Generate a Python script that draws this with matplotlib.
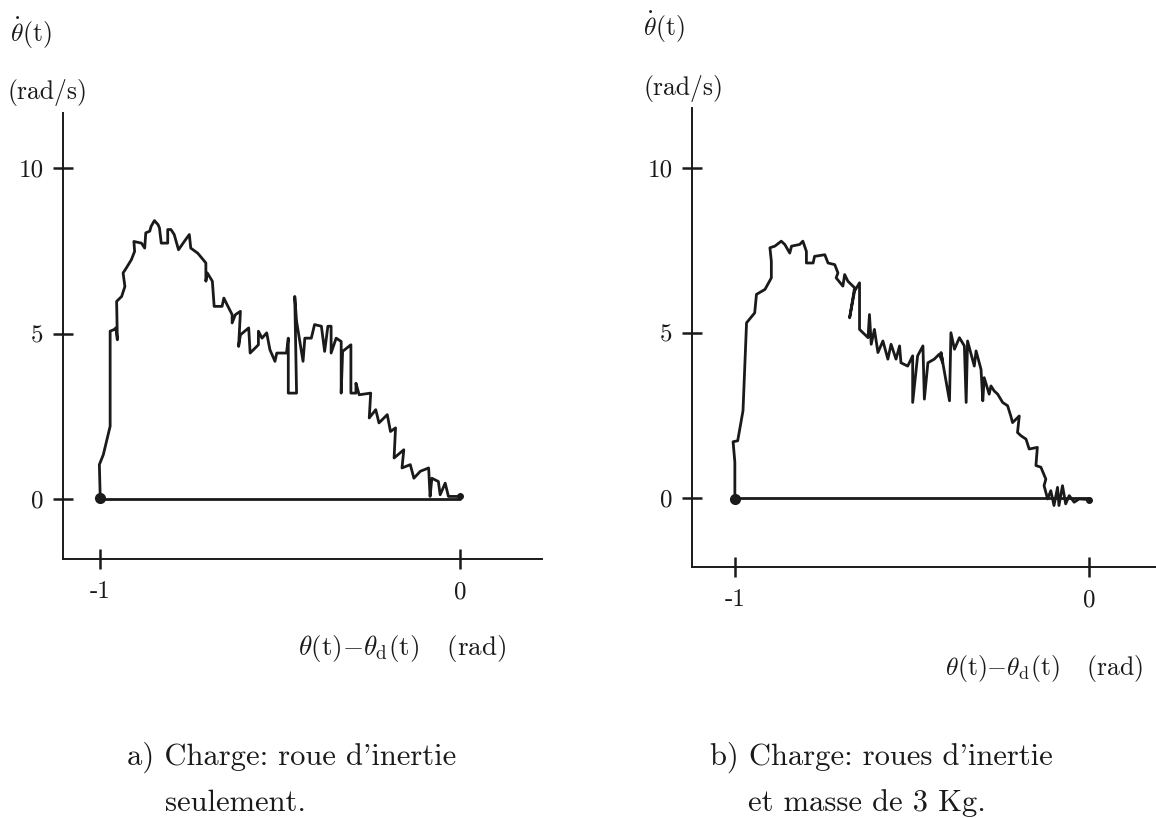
import matplotlib
matplotlib.use("Agg")
import matplotlib.pyplot as plt

plt.rcParams["font.family"] = ["cmr10", "DejaVu Serif"]
plt.rcParams["mathtext.fontset"] = "cm"
plt.rcParams["axes.unicode_minus"] = False
plt.rcParams["axes.formatter.use_mathtext"] = True

# a) roue d'inertie seulement
xa = [-1.000, -1.000, -1.002, -0.991, -0.972, -0.972, -0.972, -0.961, -0.956, -0.952,
      -0.954, -0.940, -0.931, -0.936, -0.927, -0.913, -0.904, -0.906, -0.885, -0.876,
      -0.873, -0.862, -0.858, -0.849, -0.839, -0.835, -0.830, -0.812, -0.812, -0.803,
      -0.794, -0.782, -0.766, -0.752, -0.748, -0.729, -0.725, -0.706, -0.706, -0.702,
      -0.688, -0.683, -0.661, -0.656, -0.647, -0.633, -0.633, -0.624, -0.610, -0.615,
      -0.610, -0.587, -0.583, -0.560, -0.560, -0.550, -0.537, -0.528, -0.514, -0.509,
      -0.482, -0.477, -0.477, -0.454, -0.459, -0.454, -0.436, -0.431, -0.413, -0.404,
      -0.385, -0.376, -0.367, -0.358, -0.358, -0.344, -0.330, -0.330, -0.326, -0.303,
      -0.303, -0.289, -0.289, -0.280, -0.248, -0.252, -0.234, -0.225, -0.202, -0.193,
      -0.179, -0.183, -0.156, -0.161, -0.138, -0.128, -0.110, -0.087, -0.083, -0.078,
      -0.060, -0.055, -0.041, -0.032, -0.018, 0.000]
ya = [0.03, 0.23, 1.04, 1.34, 2.20, 2.65, 5.07, 5.12, 5.17, 4.81,
      5.97, 6.12, 6.42, 6.83, 6.98, 7.23, 7.48, 7.78, 7.73, 7.58,
      8.04, 8.09, 8.24, 8.41, 8.29, 8.19, 7.73, 7.73, 8.14, 8.14,
      7.99, 7.53, 7.78, 7.99, 7.58, 7.43, 7.38, 7.13, 6.58, 6.83,
      6.58, 5.82, 5.82, 6.07, 5.87, 5.57, 5.32, 5.57, 5.67, 4.61,
      4.96, 5.17, 4.41, 4.66, 5.07, 4.86, 5.02, 4.51, 4.16, 4.41,
      4.41, 4.86, 3.20, 3.20, 6.12, 5.37, 4.16, 4.86, 4.86, 5.27,
      5.22, 4.46, 5.22, 5.22, 4.41, 4.86, 4.76, 3.20, 4.46, 4.66,
      3.20, 3.20, 3.50, 3.15, 3.20, 2.45, 2.70, 2.30, 2.55, 2.04,
      2.15, 1.24, 1.49, 0.94, 1.04, 0.63, 0.84, 0.94, 0.08, 0.63,
      0.53, 0.13, 0.48, 0.08, 0.08, 0.08]

# b) roues d'inertie et masse de 3 Kg
xb = [-1.000, -1.000, -1.005, -0.992, -0.977, -0.967, -0.944, -0.939, -0.915, -0.897,
      -0.897, -0.901, -0.887, -0.869, -0.859, -0.845, -0.840, -0.817, -0.808, -0.798,
      -0.798, -0.779, -0.775, -0.746, -0.737, -0.718, -0.709, -0.714, -0.695, -0.690,
      -0.681, -0.662, -0.676, -0.662, -0.648, -0.648, -0.624, -0.620, -0.615, -0.606,
      -0.596, -0.582, -0.568, -0.559, -0.545, -0.535, -0.531, -0.512, -0.498, -0.498,
      -0.484, -0.469, -0.465, -0.455, -0.437, -0.423, -0.413, -0.418, -0.394, -0.390,
      -0.380, -0.366, -0.352, -0.347, -0.343, -0.324, -0.319, -0.305, -0.300, -0.296,
      -0.282, -0.277, -0.268, -0.258, -0.244, -0.230, -0.221, -0.216, -0.197, -0.202,
      -0.192, -0.178, -0.169, -0.146, -0.150, -0.136, -0.122, -0.127, -0.117, -0.108,
      -0.099, -0.089, -0.085, -0.075, -0.066, -0.056, -0.042, -0.028, 0.000]
yb = [-0.02, 1.09, 1.71, 1.74, 2.65, 5.31, 5.61, 6.17, 6.32, 6.67,
      7.17, 7.58, 7.63, 7.78, 7.68, 7.42, 7.63, 7.68, 7.78, 7.47,
      7.12, 7.12, 7.32, 7.37, 7.12, 7.07, 6.82, 6.67, 6.42, 6.77,
      6.57, 6.37, 5.46, 6.27, 6.52, 5.11, 4.86, 5.56, 4.66, 5.11,
      4.41, 4.76, 4.21, 4.66, 4.21, 4.61, 4.10, 4.00, 4.31, 2.90,
      4.31, 4.61, 3.00, 4.10, 4.21, 4.36, 4.10, 4.41, 2.95, 5.01,
      4.51, 4.86, 4.61, 2.90, 4.76, 4.00, 4.46, 3.90, 2.95, 3.65,
      3.15, 3.40, 3.25, 3.15, 2.90, 2.80, 2.49, 2.29, 2.49, 1.99,
      1.89, 1.79, 1.49, 1.54, 0.99, 0.94, 0.58, 0.38, -0.02, 0.23,
      -0.22, 0.33, -0.22, 0.38, -0.17, 0.08, -0.12, -0.02, -0.04]

zero_x = [-1.0, 0.0]
zero_y = [0.0, 0.0]
xticks = [-1, 0]
xtick_labels = ["-1", "0"]
yticks = [0, 5, 10]
ytick_labels = ["0", "5", "10"]


def draw(ax, x, y, xlim, ylim):
    ax.plot(zero_x, zero_y, color="#1a1a1a", lw=2.0, solid_capstyle="round")
    ax.plot(x, y, color="#1a1a1a", lw=2.0, solid_joinstyle="round")
    ax.plot([x[0]], [y[0]], "o", color="#1a1a1a", ms=7)
    ax.plot([x[-1]], [y[-1]], "o", color="#1a1a1a", ms=4)
    ax.set_xlim(*xlim)
    ax.set_ylim(*ylim)
    for s in ("top", "right"):
        ax.spines[s].set_visible(False)
    for s in ("left", "bottom"):
        ax.spines[s].set_linewidth(1.4)
        ax.spines[s].set_color("#1a1a1a")
    ax.set_xticks(xticks, xtick_labels)
    ax.set_yticks(yticks, ytick_labels)
    ax.tick_params(direction="inout", length=14, width=1.8, labelsize=18,
                   color="#1a1a1a", labelcolor="#1a1a1a")
    ax.tick_params(axis="x", pad=9)
    ax.tick_params(axis="y", pad=7)


fig = plt.figure(figsize=(11.56, 8.18), dpi=100)
W, H = 1156, 818

ax1 = fig.add_axes([63 / W, 1 - 559 / H, 479 / W, 446 / H])
draw(ax1, xa, ya, (-1.103, 0.228), (-1.81, 11.66))

ax2 = fig.add_axes([692 / W, 1 - 567 / H, 464 / W, 459 / H])
draw(ax2, xb, yb, (-1.121, 0.189), (-2.08, 11.81))

fs = 18.5
tc = "#1a1a1a"
# titres des axes
fig.text(10 / W, 1 - 33 / H, r"$\dot{\theta}$(t)", fontsize=fs, ha="left", va="center", color=tc)
fig.text(8 / W, 1 - 93 / H, "(rad/s)", fontsize=fs, ha="left", va="center", color=tc)
fig.text(643 / W, 1 - 27 / H, r"$\dot{\theta}$(t)", fontsize=fs, ha="left", va="center", color=tc)
fig.text(643 / W, 1 - 88 / H, "(rad/s)", fontsize=fs, ha="left", va="center", color=tc)

xlab = r"$\theta$(t)$-\theta_{\rm d}$(t)   (rad)"
fig.text(298 / W, 1 - 648 / H, xlab, fontsize=fs + 1, ha="left", va="center", color=tc)
fig.text(945 / W, 1 - 668 / H, xlab, fontsize=fs, ha="left", va="center", color=tc)

# légendes
cs = 22
fig.text(127 / W, 1 - 757 / H, "a) Charge: roue d'inertie", fontsize=cs, ha="left", va="center", color=tc)
fig.text(165 / W, 1 - 803 / H, "seulement.", fontsize=cs, ha="left", va="center", color=tc)
fig.text(710 / W, 1 - 757 / H, "b) Charge: roues d'inertie", fontsize=cs, ha="left", va="center", color=tc)
fig.text(748 / W, 1 - 803 / H, "et masse de 3 Kg.", fontsize=cs, ha="left", va="center", color=tc)

fig.savefig("out.png", dpi=100)
